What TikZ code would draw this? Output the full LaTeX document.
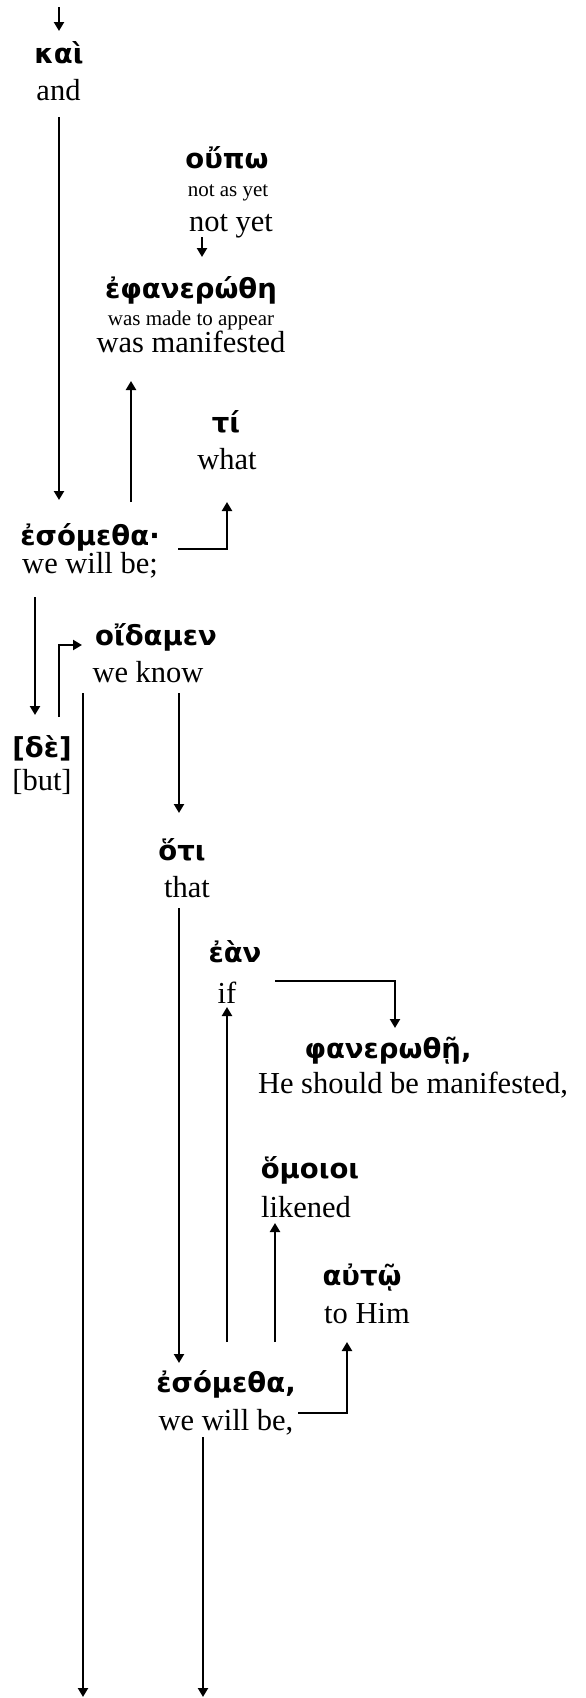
\documentclass[tikz,border=0pt]{standalone}
\usepackage{fontspec}
\setmainfont{Liberation Serif}
\newfontfamily\gkfont{DejaVu Sans}[Scale=1.0]
\usetikzlibrary{arrows.meta,calc}
\tikzset{
  gk/.style={inner sep=0pt,anchor=base,font=\gkfont\bfseries\fontsize{27.5}{31}\selectfont},
  en/.style={inner sep=0pt,anchor=base,font=\fontsize{30.5}{36}\selectfont},
  sm/.style={inner sep=0pt,anchor=base,font=\fontsize{21}{25}\selectfont},
  arr/.style={line width=2.2pt,-{Triangle[length=9pt,width=10pt]}},
  ln/.style={line width=2.2pt}
}
\begin{document}
\begin{tikzpicture}[x=1pt,y=-1pt]
\useasboundingbox (0,0) rectangle (586,1698);
% nodes
\node[gk] (kaiG) at (59,63) {καὶ};
\node[en] (kaiE) at (58.5,100) {and};
\node[gk] (oupoG) at (227,168) {οὔπω};
\node[sm] (oupoS) at (228,196) {not as yet};
\node[en] (oupoE) at (231,231) {not yet};
\node[gk] (efanG) at (191,298) {ἐφανερώθη};
\node[sm] (efanS) at (191,325) {was made to appear};
\node[en] (efanE) at (191,352) {was manifested};
\node[gk] (tiG) at (226,432) {τί};
\node[en] (tiE) at (227,469) {what};
\node[gk] (esomAG) at (90,545) {ἐσόμεθα·};
\node[en] (esomAE) at (90,573) {we will be;};
\node[gk] (oidG) at (156,645) {οἴδαμεν};
\node[en] (oidE) at (148,682) {we know};
\node[gk] (deG) at (42,757) {[δὲ]};
\node[en] (deE) at (42,790) {[but]};
\node[gk] (otiG) at (182,860) {ὅτι};
\node[en] (otiE) at (187,897) {that};
\node[gk] (eanG) at (235,962) {ἐὰν};
\node[en] (eanE) at (227,1003) {if};
\node[gk] (fanG) at (388,1058) {φανερωθῇ,};
\node[en] (fanE) at (413,1093) {He should be manifested,};
\node[gk] (omoG) at (310,1178) {ὅμοιοι};
\node[en] (omoE) at (306,1217) {likened};
\node[gk] (autG) at (362,1285) {αὐτῷ};
\node[en] (autE) at (367,1323) {to Him};
\node[gk] (esomBG) at (226,1392) {ἐσόμεθα,};
\node[en] (esomBE) at (226,1430) {we will be,};
\coordinate (top) at (59,7);
\coordinate (bot1) at (83,1697);
\coordinate (bot2) at (203,1697);
% connectors
\draw[arr] (top) -- ($(kaiG.base)+(0,-32)$);
\draw[arr] ($(kaiE.base)+(0.5,17)$) -- ($(kaiE.base |- esomAG.base)+(0.5,-45)$);
\draw[arr] ($(oupoE.base)+(-29,6)$) -- ($(efanG.base)+(11,-41)$);
\draw[arr] ($(esomAG.base)+(41,-43)$) -- ($(efanE.base)+(-60,29)$);
\draw[arr] ($(esomAG.base)+(88,4)$) -| ($(tiE.base)+(0,33)$);
\draw[arr] ($(esomAE.base)+(-55,24)$) -- ($(deG.base)+(-7,-42)$);
\draw[arr] ($(deG.base)+(17,-40)$) |- ($(oidG.base)+(-74,0)$);
\draw[arr] ($(oidE.base)+(-65,11)$) -- (bot1);
\draw[arr] ($(oidE.base)+(31,11)$) -- ($(otiG.base)+(-3,-47)$);
\draw[arr] ($(otiE.base)+(-8,11)$) -- ($(esomBG.base)+(-47,-29)$);
\draw[arr] ($(esomBG.base)+(1,-50)$) -- ($(eanE.base)+(0,4)$);
\draw[arr] ($(eanE.base)+(48,-22)$) -| ($(fanG.base)+(7,-30)$);
\draw[arr] ($(esomBG.base)+(49,-50)$) -- ($(omoE.base)+(-31,6)$);
\draw[arr] ($(esomBE.base)+(72,-17)$) -| ($(autE.base)+(-20,19)$);
\draw[arr] ($(esomBE.base)+(-23,7)$) -- (bot2);
\end{tikzpicture}
\end{document}
